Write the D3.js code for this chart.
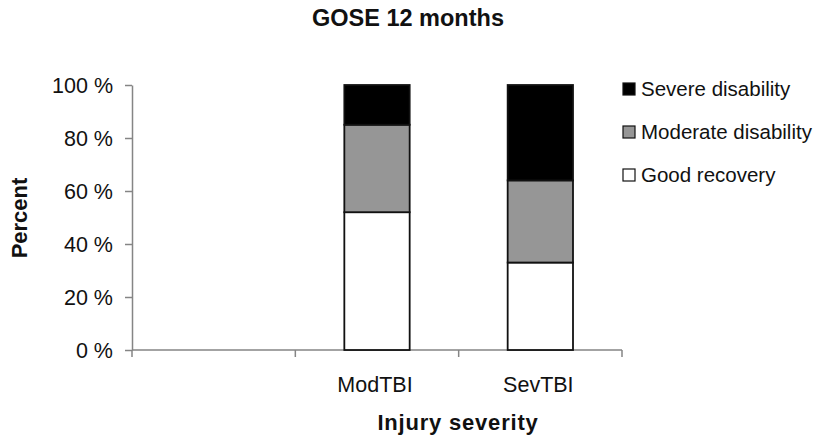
<!DOCTYPE html>
<html><head><meta charset="utf-8">
<script src="https://cdn.jsdelivr.net/npm/d3@7"></script>
<style>body{margin:0;background:#fff}svg{display:block}text{font-family:"Liberation Sans",Arial,sans-serif}</style>
</head><body><svg id="c" width="827" height="443"></svg>
<script>
const categories = ["", "ModTBI", "SevTBI"];
const seriesNames = ["Good recovery", "Moderate disability", "Severe disability"];
const goodRecovery = [null, 52, 33];
const moderateDisability = [null, 33, 31];
const severeDisability = [null, 15, 36];
const yTicks = [0, 20, 40, 60, 80, 100];
const colors = ["#ffffff", "#969696", "#000000"];

const svg = d3.select("#c");
const x = d3.scaleBand().domain(categories).range([132, 622]).paddingInner(0.6).paddingOuter(0.3);
const y = d3.scaleLinear().domain([0, 100]).range([350, 85]);

const rows = categories.map((c, i) => ({cat: c, g: goodRecovery[i] || 0, m: moderateDisability[i] || 0, s: severeDisability[i] || 0}));
const stack = d3.stack().keys(["g", "m", "s"])(rows);

// axes
const axisColor = "#858585";
const yAxis = svg.append("g").attr("transform", "translate(132,0)")
  .call(d3.axisLeft(y).tickValues(yTicks).tickSize(7).tickSizeOuter(0).tickFormat(d => d + " %"));
yAxis.select(".domain").attr("stroke", axisColor).attr("stroke-width", 1.5);
yAxis.selectAll(".tick line").attr("stroke", axisColor).attr("stroke-width", 1.5);
yAxis.selectAll(".tick text").attr("font-size", 21.5).attr("fill", "#111").attr("x", -19).attr("dy", "0.35em");

const xScaleTicks = d3.scaleLinear().domain([0, 3]).range([132, 622]);
const xAxisG = svg.append("g").attr("transform", "translate(0,350)");
xAxisG.append("line").attr("x1", 132).attr("x2", 622).attr("stroke", axisColor).attr("stroke-width", 1.5);
xAxisG.selectAll("line.t").data([0, 1, 2, 3]).enter().append("line").attr("class", "t")
  .attr("x1", d => xScaleTicks(d)).attr("x2", d => xScaleTicks(d)).attr("y1", 0).attr("y2", 7)
  .attr("stroke", axisColor).attr("stroke-width", 1.5);
xAxisG.selectAll("text").data(categories).enter().append("text")
  .attr("x", d => x(d) + x.bandwidth() / 2 - 2).attr("y", 42).attr("text-anchor", "middle")
  .attr("font-size", 21.5).attr("fill", "#111").text(d => d);

// bars
svg.append("g").selectAll("g").data(stack).enter().append("g")
  .attr("fill", (d, i) => colors[i])
  .selectAll("rect").data(d => d.filter(p => p[1] > p[0])).enter().append("rect")
  .attr("x", d => x(d.data.cat)).attr("width", x.bandwidth())
  .attr("y", d => y(d[1])).attr("height", d => y(d[0]) - y(d[1]))
  .attr("stroke", "#111").attr("stroke-width", 1.8);

// title & labels
svg.append("text").attr("x", 408).attr("y", 26).attr("text-anchor", "middle")
  .attr("font-size", 23.5).attr("font-weight", "bold").attr("fill", "#111").text("GOSE 12 months");
svg.append("text").attr("transform", "translate(27,218) rotate(-90)").attr("text-anchor", "middle")
  .attr("font-size", 22).attr("font-weight", "bold").attr("fill", "#111").text("Percent");
svg.append("text").attr("x", 458).attr("y", 430).attr("text-anchor", "middle")
  .attr("font-size", 22).attr("font-weight", "bold").attr("fill", "#111").attr("letter-spacing", 0.8).text("Injury severity");

// legend
const legendOrder = [2, 1, 0];
const lg = svg.append("g");
legendOrder.forEach((si, k) => {
  const cy = 89 + k * 43;
  lg.append("rect").attr("x", 623).attr("y", cy - 6).attr("width", 12).attr("height", 12)
    .attr("fill", colors[si]).attr("stroke", "#111").attr("stroke-width", 1.2);
  lg.append("text").attr("x", 641).attr("y", cy).attr("dy", "0.35em")
    .attr("font-size", 20.5).attr("fill", "#111").text(seriesNames[si]);
});
</script></body></html>
